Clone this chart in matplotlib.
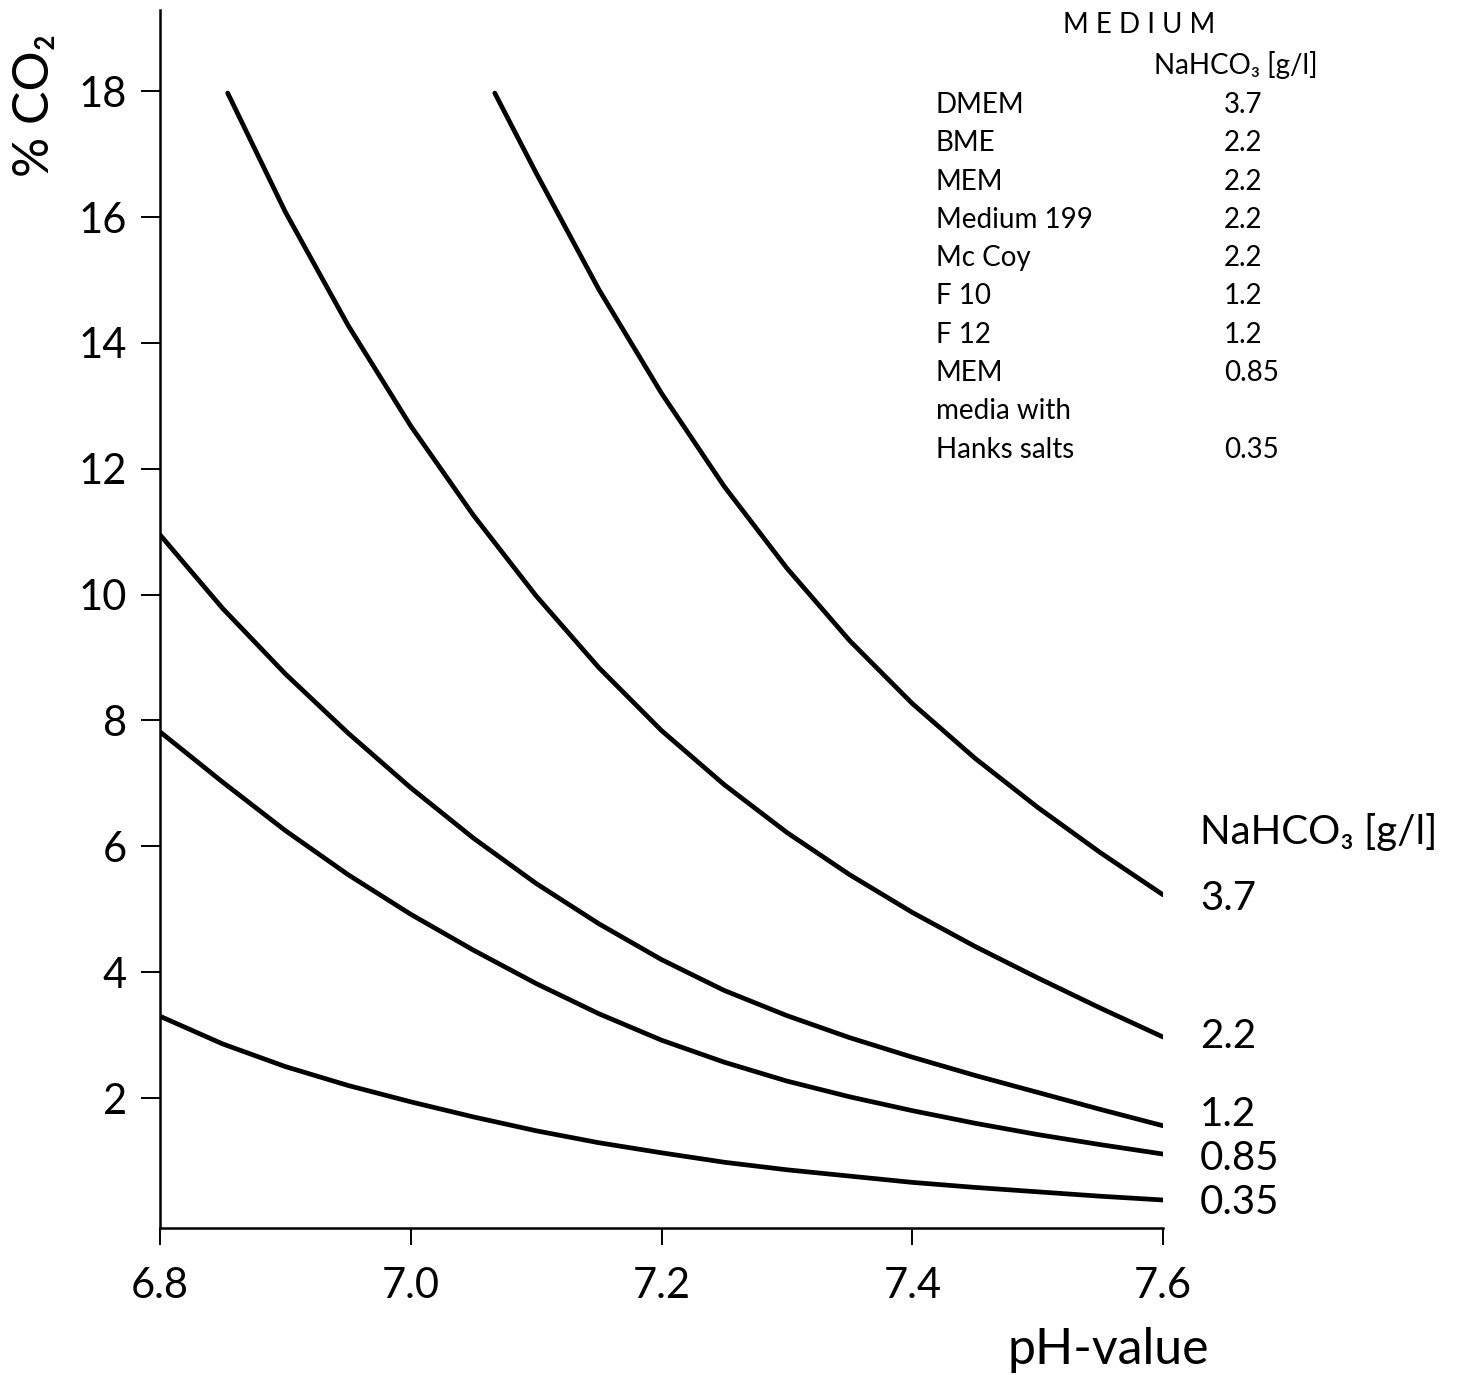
import matplotlib.pyplot as plt

plt.rcParams['font.family'] = ['Lato', 'DejaVu Sans']

# curves: pH value vs % CO2, one per NaHCO3 content [g/l]
ph_37 = [7.067, 7.10, 7.15, 7.20, 7.25, 7.30, 7.35, 7.40, 7.45, 7.50, 7.55, 7.60]
co2_37 = [17.97, 16.70, 14.85, 13.20, 11.72, 10.42, 9.27, 8.27, 7.40, 6.62, 5.90, 5.23]

ph_22 = [6.854, 6.90, 6.95, 7.00, 7.05, 7.10, 7.15, 7.20, 7.25, 7.30, 7.35, 7.40,
         7.45, 7.50, 7.55, 7.60]
co2_22 = [17.97, 16.08, 14.28, 12.68, 11.26, 9.98, 8.84, 7.84, 6.98, 6.22, 5.55, 4.95,
          4.41, 3.91, 3.43, 2.97]

ph_12 = [6.80, 6.85, 6.90, 6.95, 7.00, 7.05, 7.10, 7.15, 7.20, 7.25, 7.30, 7.35,
         7.40, 7.45, 7.50, 7.55, 7.60]
co2_12 = [10.95, 9.78, 8.74, 7.80, 6.93, 6.13, 5.41, 4.77, 4.20, 3.71, 3.31, 2.96,
          2.65, 2.36, 2.09, 1.82, 1.56]

ph_085 = [6.80, 6.85, 6.90, 6.95, 7.00, 7.05, 7.10, 7.15, 7.20, 7.25, 7.30, 7.35,
          7.40, 7.45, 7.50, 7.55, 7.60]
co2_085 = [7.82, 7.02, 6.25, 5.55, 4.92, 4.35, 3.82, 3.34, 2.92, 2.57, 2.27, 2.02,
           1.80, 1.60, 1.42, 1.26, 1.11]

ph_035 = [6.80, 6.85, 6.90, 6.95, 7.00, 7.05, 7.10, 7.15, 7.20, 7.25, 7.30, 7.35,
          7.40, 7.45, 7.50, 7.55, 7.60]
co2_035 = [3.30, 2.86, 2.50, 2.20, 1.94, 1.70, 1.48, 1.29, 1.13, 0.98, 0.86, 0.76,
           0.66, 0.58, 0.51, 0.44, 0.38]

curve_labels = ["3.7", "2.2", "1.2", "0.85", "0.35"]

x_ticks = [6.8, 7.0, 7.2, 7.4, 7.6]
y_ticks = [2, 4, 6, 8, 10, 12, 14, 16, 18]

media_names = ["DMEM", "BME", "MEM", "Medium 199", "Mc Coy", "F 10", "F 12",
               "MEM", "media with", "Hanks salts"]
media_nahco3 = ["3.7", "2.2", "2.2", "2.2", "2.2", "1.2", "1.2", "0.85", "", "0.35"]

W, H = 1467, 1375
fig = plt.figure(figsize=(W / 100, H / 100), dpi=100)
ax = fig.add_axes([160 / W, 1 - 1228 / H, (1163 - 160) / W, (1228 - 10) / H])

for xs, ys in [(ph_37, co2_37), (ph_22, co2_22), (ph_12, co2_12),
               (ph_085, co2_085), (ph_035, co2_035)]:
    ax.plot(xs, ys, color='black', lw=3.4, solid_capstyle='round', solid_joinstyle='round')

ax.set_xlim(6.8, 7.6)
ax.set_ylim(-0.065, 19.29)
ax.spines['top'].set_visible(False)
ax.spines['right'].set_visible(False)
for s in ['left', 'bottom']:
    ax.spines[s].set_linewidth(1.8)

ax.set_xticks(x_ticks)
ax.set_xticklabels([f"{v:.1f}" for v in x_ticks])
ax.set_yticks(y_ticks)
ax.tick_params(axis='x', direction='out', length=12, width=1.4, pad=16, labelsize=30)
ax.tick_params(axis='y', direction='out', length=14, width=1.4, pad=10, labelsize=30)

# axis titles
fig.text(35 / W, 1 - 105 / H, "% CO\u2082", rotation=90, fontsize=36,
         ha='center', va='center')
fig.text(1108 / W, 1 - 1350 / H, "pH-value", fontsize=36, ha='center', va='center')

# media table, top right
fig.text(1139 / W, 1 - 25 / H, "M E D I U M", fontsize=20, ha='center', va='center')
fig.text(1236 / W, 1 - 65 / H, "NaHCO\u2083 [g/l]", fontsize=20, ha='center', va='center')
for i, (name, val) in enumerate(zip(media_names, media_nahco3)):
    y = 105 + i * 38.3
    fig.text(936 / W, 1 - y / H, name, fontsize=20, ha='left', va='center')
    fig.text(1224 / W, 1 - y / H, val, fontsize=20, ha='left', va='center')

# curve labels at the right end
fig.text(1200 / W, 1 - 832 / H, "NaHCO\u2083 [g/l]", fontsize=29, ha='left', va='center')
label_y = [898, 1037, 1115, 1158, 1202]
for lab, y in zip(curve_labels, label_y):
    fig.text(1200 / W, 1 - y / H, lab, fontsize=29, ha='left', va='center')

fig.savefig("out.png", dpi=100)
